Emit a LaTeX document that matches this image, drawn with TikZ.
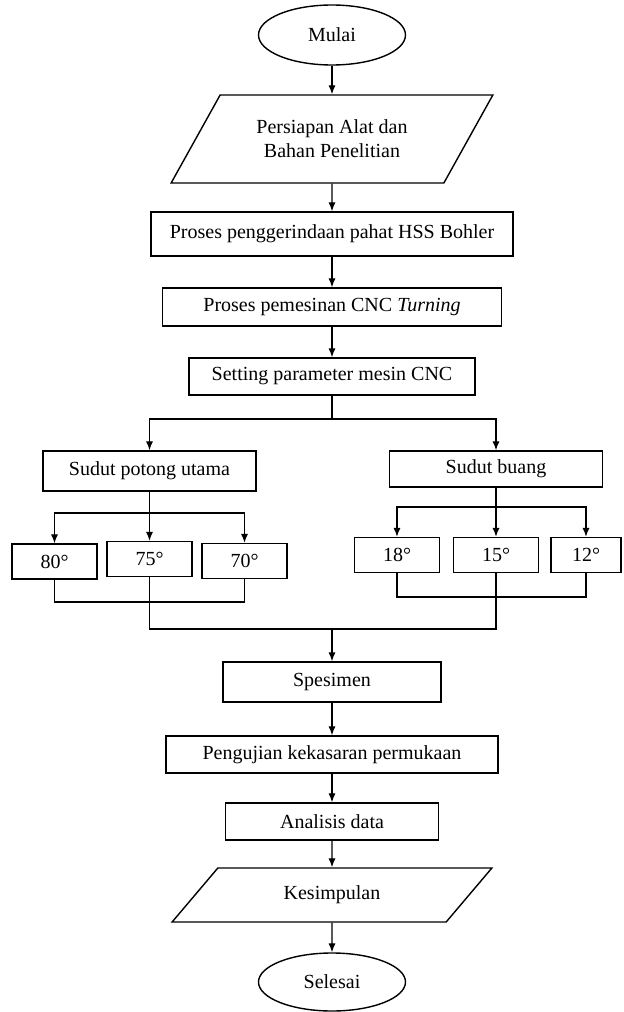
\documentclass[tikz,border=0pt]{standalone}
\usepackage{fontspec}
\setmainfont{Liberation Serif}
\usetikzlibrary{arrows.meta,shapes.geometric}

\tikzset{
  box/.style={draw, line width=0.7pt, inner sep=2pt},
  term/.style={draw, ellipse, line width=0.7pt, minimum width=73.5pt, minimum height=30pt},
  io/.style={draw, trapezium, trapezium left angle=55, trapezium right angle=125,
    trapezium stretches=true, line width=0.7pt, align=center, minimum width=161pt},
  arr/.style={-{Latex[length=4.5pt,width=3.6pt]}, line width=0.65pt},
  wire/.style={line width=0.65pt}
}

\begin{document}
\begin{tikzpicture}[x=0.5pt, y=-0.5pt, every node/.style={font=\fontsize{10}{12}\selectfont}]
        \useasboundingbox (0,0) rectangle (624,1012);
        \node[term] (mulai) at (332,35) {Mulai};
        \node[io, minimum height=44pt] (siap) at (332,139) {Persiapan Alat dan\\Bahan Penelitian};
        \node[box, minimum width=181pt, minimum height=22pt] (gerinda) at (332,234) {Proses penggerindaan pahat HSS Bohler};
        \node[box, minimum width=169.5pt, minimum height=19pt] (pemesinan) at (332,307) {Proses pemesinan CNC \textit{Turning}};
        \node[box, minimum width=143pt, minimum height=18.5pt] (setting) at (332,376.5) {Setting parameter mesin CNC};
        \node[box, minimum width=106.5pt, minimum height=20pt] (spu) at (149.5,471) {Sudut potong utama};
        \node[box, minimum width=106.5pt, minimum height=18pt] (sb) at (496,469) {Sudut buang};
        \foreach \nm/\xx/\yy/\ww/\val in {d80/54.5/561.5/42.5/80, d75/149.5/559/42.5/75, d70/244.5/561/42.5/70,
            d18/397/555/42.5/18, d15/496/555/42.5/15, d12/586/555/35/12} {
          \node[box, minimum width=\ww pt, minimum height=17.5pt] (\nm) at (\xx,\yy) {\val°};
        }
        \node[box, minimum width=109pt, minimum height=20pt] (spes) at (332,682) {Spesimen};
        \node[box, minimum width=166pt, minimum height=18.5pt] (uji) at (332,754.5) {Pengujian kekasaran permukaan};
        \node[box, minimum width=106.5pt, minimum height=18.5pt] (analisis) at (332,821.5) {Analisis data};
        \node[io, minimum height=27pt] (simpul) at (332,895) {Kesimpulan};
        \node[term, minimum height=29pt] (selesai) at (332,982) {Selesai};
        \coordinate (splitA) at (332,419);
        \coordinate (splitL) at (149.5,513);
        \coordinate (splitR) at (496,507);
        \coordinate (joinL) at (149.5,602);
        \coordinate (joinR) at (496,597);
        \coordinate (merge) at (332,629);
        \draw[arr] (mulai) -- (siap);
        \draw[arr] (siap) -- (gerinda);
        \draw[arr] (gerinda) -- (pemesinan);
        \draw[arr] (pemesinan) -- (setting);
        \draw[wire] (setting) -- (splitA);
        \draw[arr] (splitA) -| (spu);
        \draw[arr] (splitA) -| (sb);
        \draw[arr] (spu) -- (d75);
        \draw[arr] (splitL) -| (d80);
        \draw[arr] (splitL) -| (d70);
        \draw[arr] (sb) -- (d15);
        \draw[arr] (splitR) -| (d18);
        \draw[arr] (splitR) -| (d12);
        \draw[wire] (d80) |- (joinL) -| (d70);
        \draw[wire] (d18) |- (joinR) -| (d12);
        \draw[wire] (d75) |- (merge) -| (d15);
        \draw[arr] (merge) -- (spes);
        \draw[arr] (spes) -- (uji);
        \draw[arr] (uji) -- (analisis);
        \draw[arr] (analisis) -- (simpul);
        \draw[arr] (simpul) -- (selesai);
      \end{tikzpicture}
\end{document}
